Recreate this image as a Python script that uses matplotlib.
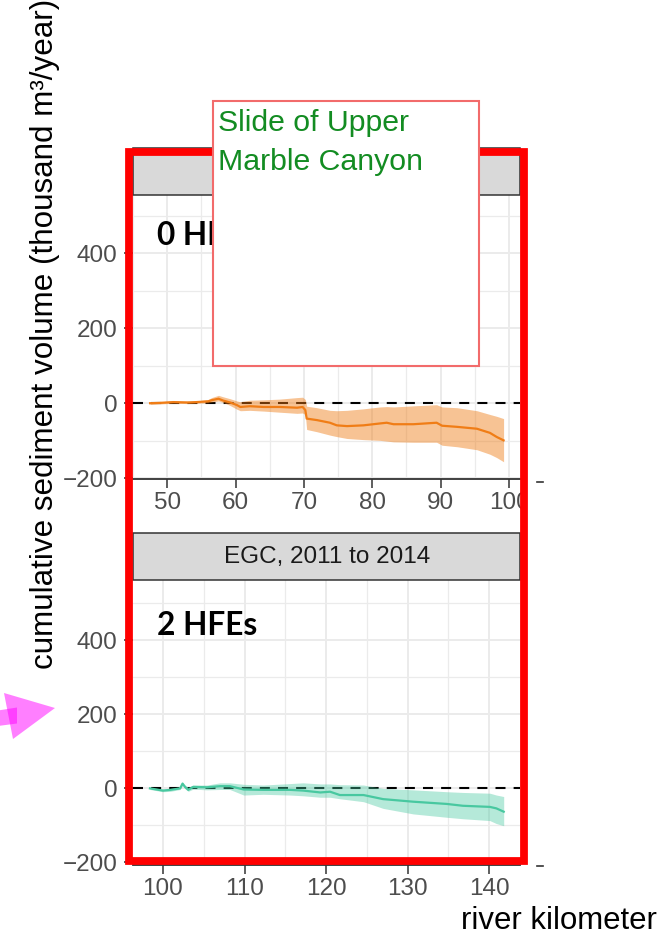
"""Cumulative sediment volume along the river, two EGC periods, with slide annotation."""
import matplotlib
matplotlib.use("Agg")
import matplotlib.pyplot as plt
from matplotlib.patches import Rectangle, Polygon
from matplotlib.lines import Line2D

plt.rcParams["font.family"] = ["Liberation Sans", "DejaVu Sans"]

# upper panel: 0 HFEs
top_km = [47.5, 49.0, 50.9, 53.0, 54.3, 56.0, 56.5, 57.5, 58.2, 59.2, 60.2, 60.7,
          62.1, 64.1, 66.5, 69.0, 69.8, 70.2, 70.4, 71.9, 73.8, 74.8, 76.3, 78.7,
          81.1, 82.1, 83.1, 86.0, 89.4, 90.2, 92.4, 95.3, 97.2, 98.2, 99.2]
top_mid = [0, 1, 3, 2, 3, 5, 8, 12, 7, 2, -5, -10,
           -8, -10, -10, -12, -10, -18, -41, -45, -52, -59, -61, -59,
           -54, -52, -56, -56, -52, -60, -63, -68, -79, -90, -99]
top_hi = [3, 4, 6, 5, 6, 10, 15, 21, 17, 12, 6, 4,
          8, 9, 11, 15, 16, 10, -8, -12, -19, -20, -19, -15,
          -10, -9, -10, -7, -4, -10, -12, -20, -30, -35, -41]
top_lo = [-3, -2, 0, -1, 0, 1, 3, 6, 2, -6, -16, -20,
          -19, -21, -24, -27, -26, -30, -70, -76, -85, -89, -94, -97,
          -99, -101, -103, -104, -104, -112, -116, -124, -136, -145, -156]

# lower panel: EGC, 2011 to 2014, 2 HFEs
bot_km = [98.4, 100.0, 100.9, 102.1, 102.4, 102.7, 103.1, 103.7, 105.4, 107.0,
          108.2, 109.9, 112.3, 115.6, 117.2, 119.3, 120.5, 121.7, 124.6, 127.0,
          130.7, 134.8, 136.8, 140.1, 140.9, 141.8]
bot_mid = [0, -6, -4, 0, 13, 4, -4, 4, 3, 6,
           6, -3, -4, -4, -6, -11, -9, -18, -18, -29,
           -36, -42, -47, -50, -54, -63]
bot_hi = [3, -2, 0, 4, 16, 9, 3, 9, 9, 15,
          15, 11, 9, 13, 15, 12, 12, 10, 9, 0,
          -4, -9, -11, -13, -18, -22]
bot_lo = [-3, -9, -8, -3, 8, -1, -8, -2, -4, -3,
          -3, -18, -16, -18, -20, -24, -24, -28, -36, -54,
          -69, -78, -82, -87, -95, -101]

top_xticks = [50, 60, 70, 80, 90, 100]
bot_xticks = [100, 110, 120, 130, 140]
yticks = [-200, 0, 200, 400]

W, H = 666, 936


def fx(x):
    return x / W


def fy(y):
    return 1 - y / H


def style_panel(ax, xlim, ylim, xticks, xminor):
    ax.set_xlim(*xlim)
    ax.set_ylim(*ylim)
    ax.set_xticks(xticks)
    ax.set_xticks(xminor, minor=True)
    ax.set_yticks(yticks)
    ax.set_yticks([-100, 100, 300, 500], minor=True)
    ax.grid(which="major", color="#EBEBEB", lw=1.4)
    ax.grid(which="minor", color="#EBEBEB", lw=0.9)
    ax.set_axisbelow(True)
    for side in ["top", "right", "left"]:
        ax.spines[side].set_visible(False)
    ax.spines["bottom"].set_color("#333333")
    ax.spines["bottom"].set_linewidth(1.3)
    ax.tick_params(which="major", length=6.5, width=1.1, color="#333333",
                   labelsize=17.5, labelcolor="#4D4D4D", pad=3)
    ax.tick_params(axis="y", pad=4.5)
    ax.tick_params(which="minor", length=0)
    ax.axhline(0, color="black", lw=1.5, dashes=(4.8, 3.9), zorder=1)


fig = plt.figure(figsize=(W / 100, H / 100), dpi=100)

ax1 = fig.add_axes([fx(133), fy(479), 387 / W, 284 / H])
style_panel(ax1, (45.03, 101.6), (-202, 555), top_xticks, [45, 55, 65, 75, 85, 95])
ax1.fill_between(top_km, top_lo, top_hi, color="#EE7A12", alpha=0.45, lw=0, zorder=2)
ax1.plot(top_km, top_mid, color="#F07D16", lw=1.6, zorder=3)
ax1.text(48.5, 421, "0 HFEs", fontsize=22.8, fontweight="bold", family=["Lato", "DejaVu Sans"],
         ha="left", va="baseline", color="black")

ax2 = fig.add_axes([fx(133), fy(865), 387 / W, 285 / H])
style_panel(ax2, (96.32, 143.8), (-207, 563), bot_xticks, [105, 115, 125, 135])
ax2.fill_between(bot_km, bot_lo, bot_hi, color="#48C8A0", alpha=0.4, lw=0, zorder=2)
ax2.plot(bot_km, bot_mid, color="#48C8A0", lw=1.6, zorder=3)
ax2.text(99.3, 414, "2 HFEs", fontsize=22.8, fontweight="bold", family=["Lato", "DejaVu Sans"],
         ha="left", va="baseline", color="black")

# facet strips
for top, bottom in [(148, 195), (533, 580)]:
    fig.add_artist(Rectangle((fx(133), fy(bottom)), 387 / W, (bottom - top) / H,
                             transform=fig.transFigure, facecolor="#D9D9D9",
                             edgecolor="#333333", lw=1.1, zorder=2))
fig.text(fx(327), fy(557), "EGC, 2011 to 2014", fontsize=17.5, color="#1A1A1A",
         ha="center", va="center", zorder=3)

# hide the overhang of the last tick label past the panel
fig.add_artist(Rectangle((fx(524), fy(525)), 40 / W, 35 / H, transform=fig.transFigure,
                         facecolor="white", edgecolor="none", zorder=3))

# small tick dashes right of each panel
for y in (482, 866):
    fig.add_artist(Line2D([fx(537), fx(543)], [fy(y), fy(y)], transform=fig.transFigure,
                          color="#333333", lw=1.2))

# red highlight frame
fig.add_artist(Rectangle((fx(129), fy(860.5)), (523.5 - 129) / W, (860.5 - 152) / H,
                         transform=fig.transFigure, fill=False, edgecolor="#FF0000",
                         lw=5.6, joinstyle="miter", zorder=10))

# annotation box
fig.add_artist(Rectangle((fx(213), fy(366)), (479 - 213) / W, (366 - 101) / H,
                         transform=fig.transFigure, facecolor="white",
                         edgecolor="#F26B6B", lw=1.5, zorder=11))
fig.text(fx(218), fy(131), "Slide of Upper", fontsize=21.8, color="#138C22",
         ha="left", va="baseline", zorder=12)
fig.text(fx(218), fy(170), "Marble Canyon", fontsize=21.8, color="#138C22",
         ha="left", va="baseline", zorder=12)

# magenta pointer at left edge
shaft = [(fx(-2), fy(710.5)), (fx(17), fy(707.5)), (fx(17), fy(723.5)), (fx(-2), fy(726))]
head = [(fx(4), fy(693)), (fx(55), fy(708)), (fx(13), fy(739))]
for pts in (shaft, head):
    fig.add_artist(Polygon(pts, closed=True, transform=fig.transFigure,
                           facecolor="#FF00FF", edgecolor="none", alpha=0.5, zorder=12))

# axis titles
fig.text(fx(45), fy(669), "cumulative sediment volume (thousand m\u00b3/year)",
         rotation=90, rotation_mode="anchor", ha="left", va="center",
         fontsize=22.6, color="black")
fig.text(fx(657), fy(921), "river kilometer", fontsize=22.4, color="black",
         ha="right", va="center")

fig.savefig("out.png", dpi=100)
